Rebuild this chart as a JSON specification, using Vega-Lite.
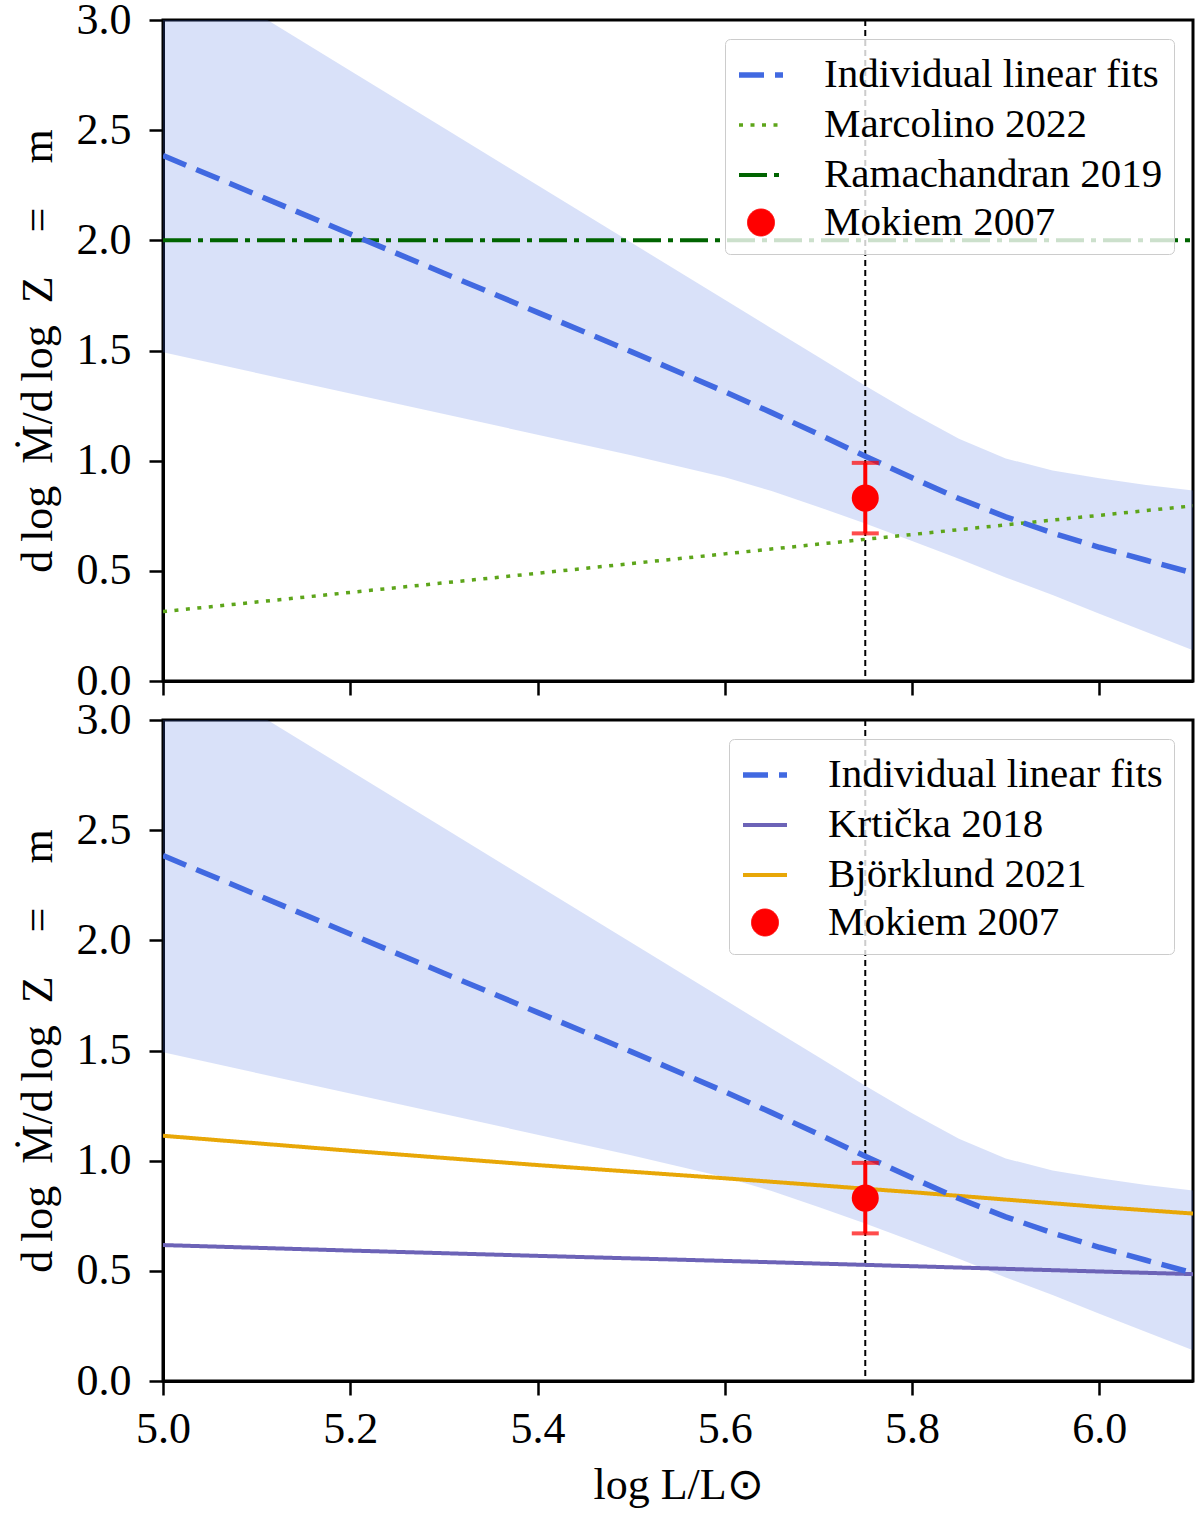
{
  "$schema": "https://vega.github.io/schema/vega-lite/v6.json",
  "background": "white",
  "padding": {"left": 14, "top": -4, "right": 5, "bottom": 5},
  "config": {
    "font": "Liberation Serif",
    "view": {"stroke": "black", "strokeWidth": 3},
    "axis": {
      "grid": false,
      "domainColor": "black",
      "domainWidth": 3,
      "tickColor": "black",
      "tickWidth": 2.5,
      "tickSize": 14,
      "labelFont": "Liberation Serif",
      "labelFontSize": 44,
      "labelColor": "black",
      "titleFont": "Liberation Serif",
      "titleFontSize": 44,
      "titleFontWeight": "normal",
      "titleColor": "black"
    },
    "axisX": {"labelPadding": 12, "titlePadding": 12, "labelFlush": false, "labelOverlap": false},
    "axisY": {"labelPadding": 18, "titlePadding": 16},
    "legend": {
      "orient": "top-right",
      "offset": 19,
      "padding": 11,
      "labelFont": "Liberation Serif",
      "labelFontSize": 41,
      "labelColor": "black",
      "labelOffset": 38,
      "labelLimit": 0,
      "rowPadding": 6,
      "strokeColor": "#cccccc",
      "fillColor": "rgba(255,255,255,0.8)",
      "cornerRadius": 5,
      "symbolOpacity": 1
    }
  },
  "datasets": {
    "band": [
      {"x": 5.0, "lo": 1.492, "hi": 3.29},
      {"x": 5.1, "lo": 1.398, "hi": 3.03},
      {"x": 5.2, "lo": 1.305, "hi": 2.77},
      {"x": 5.3, "lo": 1.212, "hi": 2.51},
      {"x": 5.4, "lo": 1.118, "hi": 2.25},
      {"x": 5.5, "lo": 1.025, "hi": 1.99},
      {"x": 5.6, "lo": 0.925, "hi": 1.73},
      {"x": 5.65, "lo": 0.862, "hi": 1.6},
      {"x": 5.7, "lo": 0.79, "hi": 1.47},
      {"x": 5.75, "lo": 0.715, "hi": 1.34},
      {"x": 5.8, "lo": 0.635, "hi": 1.215},
      {"x": 5.85, "lo": 0.555, "hi": 1.1},
      {"x": 5.9, "lo": 0.47, "hi": 1.01},
      {"x": 5.95, "lo": 0.39, "hi": 0.955},
      {"x": 6.0, "lo": 0.305, "hi": 0.92},
      {"x": 6.05, "lo": 0.222, "hi": 0.89},
      {"x": 6.1, "lo": 0.14, "hi": 0.865}
    ],
    "fits": [
      {"series": "Individual linear fits", "x": 5.0, "y": 2.385},
      {"series": "Individual linear fits", "x": 5.1, "y": 2.207},
      {"series": "Individual linear fits", "x": 5.2, "y": 2.029},
      {"series": "Individual linear fits", "x": 5.3, "y": 1.851},
      {"series": "Individual linear fits", "x": 5.4, "y": 1.673},
      {"series": "Individual linear fits", "x": 5.5, "y": 1.495},
      {"series": "Individual linear fits", "x": 5.6, "y": 1.313},
      {"series": "Individual linear fits", "x": 5.65, "y": 1.218},
      {"series": "Individual linear fits", "x": 5.7, "y": 1.12},
      {"series": "Individual linear fits", "x": 5.75, "y": 1.02},
      {"series": "Individual linear fits", "x": 5.8, "y": 0.922},
      {"series": "Individual linear fits", "x": 5.85, "y": 0.828},
      {"series": "Individual linear fits", "x": 5.9, "y": 0.745},
      {"series": "Individual linear fits", "x": 5.95, "y": 0.672},
      {"series": "Individual linear fits", "x": 6.0, "y": 0.607},
      {"series": "Individual linear fits", "x": 6.05, "y": 0.548},
      {"series": "Individual linear fits", "x": 6.1, "y": 0.49}
    ],
    "upper": [
      {"series": "Marcolino 2022", "x": 5.0, "y": 0.315},
      {"series": "Marcolino 2022", "x": 5.2, "y": 0.402},
      {"series": "Marcolino 2022", "x": 5.4, "y": 0.489},
      {"series": "Marcolino 2022", "x": 5.6, "y": 0.577},
      {"series": "Marcolino 2022", "x": 5.8, "y": 0.665},
      {"series": "Marcolino 2022", "x": 6.0, "y": 0.752},
      {"series": "Marcolino 2022", "x": 6.1, "y": 0.795},
      {"series": "Ramachandran 2019", "x": 5.0, "y": 2.0},
      {"series": "Ramachandran 2019", "x": 6.1, "y": 2.0}
    ],
    "lower": [
      {"series": "Krtička 2018", "x": 5.0, "y": 0.617},
      {"series": "Krtička 2018", "x": 5.2, "y": 0.592},
      {"series": "Krtička 2018", "x": 5.4, "y": 0.568},
      {"series": "Krtička 2018", "x": 5.6, "y": 0.545},
      {"series": "Krtička 2018", "x": 5.8, "y": 0.521},
      {"series": "Krtička 2018", "x": 6.0, "y": 0.497},
      {"series": "Krtička 2018", "x": 6.1, "y": 0.485},
      {"series": "Björklund 2021", "x": 5.0, "y": 1.113},
      {"series": "Björklund 2021", "x": 5.2, "y": 1.045},
      {"series": "Björklund 2021", "x": 5.4, "y": 0.98},
      {"series": "Björklund 2021", "x": 5.6, "y": 0.92},
      {"series": "Björklund 2021", "x": 5.8, "y": 0.857},
      {"series": "Björklund 2021", "x": 6.0, "y": 0.79},
      {"series": "Björklund 2021", "x": 6.1, "y": 0.76}
    ],
    "mokiem": [
      {"series": "Mokiem 2007", "x": 5.75, "y": 0.83, "lo": 0.67, "hi": 0.99}
    ]
  },
  "bounds": "flush",
  "spacing": 39,
  "resolve": {
    "scale": {
      "color": "independent",
      "strokeDash": "independent",
      "strokeWidth": "independent",
      "shape": "independent",
      "size": "independent"
    }
  },
  "vconcat": [
    {
      "width": 1030,
      "height": 661,
      "layer": [
        {
          "data": {"name": "band"},
          "mark": {"type": "area", "color": "#4169E1", "opacity": 0.2, "clip": true},
          "encoding": {
            "x": {
              "field": "x",
              "type": "quantitative",
              "title": null,
              "scale": {"domain": [5.0, 6.1], "nice": false, "zero": false},
              "axis": {"values": [5.0, 5.2, 5.4, 5.6, 5.8, 6.0], "labels": false}
            },
            "y": {
              "field": "lo",
              "type": "quantitative",
              "title": "d\u2009log\u2002\u1e40/d\u2009log\u2002Z\u2003=\u2003m",
              "scale": {"domain": [0, 3], "nice": false},
              "axis": {"values": [0, 0.5, 1, 1.5, 2, 2.5, 3], "format": ".1f"}
            },
            "y2": {"field": "hi"}
          }
        },
        {
          "data": {"name": "mokiem"},
          "mark": {"type": "rule", "color": "black", "strokeWidth": 2, "strokeDash": [6, 4]},
          "encoding": {"x": {"field": "x", "type": "quantitative", "title": null}}
        },
        {
          "data": {"name": "upper"},
          "mark": {"type": "line", "clip": true, "strokeCap": "butt"},
          "encoding": {
            "x": {"field": "x", "type": "quantitative", "title": null},
            "y": {"field": "y", "type": "quantitative", "title": "d\u2009log\u2002\u1e40/d\u2009log\u2002Z\u2003=\u2003m"},
            "color": {"field": "series", "type": "nominal", "title": null,
              "scale": {"domain": ["Individual linear fits", "Marcolino 2022", "Ramachandran 2019", "Mokiem 2007"], "range": ["#4169E1", "#5DA51A", "#006400", "#FF0000"]}},
            "strokeDash": {"field": "series", "type": "nominal", "title": null,
              "scale": {"domain": ["Individual linear fits", "Marcolino 2022", "Ramachandran 2019", "Mokiem 2007"], "range": [[25, 11], [4, 7.5], [28, 7, 5, 7], [1, 0]]}},
            "strokeWidth": {"field": "series", "type": "nominal", "title": null,
              "scale": {"type": "ordinal", "domain": ["Individual linear fits", "Marcolino 2022", "Ramachandran 2019", "Mokiem 2007"], "range": [5.5, 3.5, 4, 1]}}
          }
        },
        {
          "data": {"name": "fits"},
          "mark": {"type": "line", "clip": true, "strokeCap": "butt"},
          "encoding": {
            "x": {"field": "x", "type": "quantitative", "title": null},
            "y": {"field": "y", "type": "quantitative", "title": "d\u2009log\u2002\u1e40/d\u2009log\u2002Z\u2003=\u2003m"},
            "color": {"field": "series", "type": "nominal", "title": null,
              "scale": {"domain": ["Individual linear fits", "Marcolino 2022", "Ramachandran 2019", "Mokiem 2007"], "range": ["#4169E1", "#5DA51A", "#006400", "#FF0000"]}},
            "strokeDash": {"field": "series", "type": "nominal", "title": null,
              "scale": {"domain": ["Individual linear fits", "Marcolino 2022", "Ramachandran 2019", "Mokiem 2007"], "range": [[25, 11], [4, 7.5], [28, 7, 5, 7], [1, 0]]}},
            "strokeWidth": {"field": "series", "type": "nominal", "title": null,
              "scale": {"type": "ordinal", "domain": ["Individual linear fits", "Marcolino 2022", "Ramachandran 2019", "Mokiem 2007"], "range": [5.5, 3.5, 4, 1]}}
          }
        },
        {
          "data": {"name": "mokiem"},
          "mark": {"type": "errorbar", "color": "#FF0000", "thickness": 4, "ticks": {"color": "#FF0000", "size": 27, "thickness": 4}},
          "encoding": {
            "x": {"field": "x", "type": "quantitative", "title": null},
            "y": {"field": "lo", "type": "quantitative", "title": "d\u2009log\u2002\u1e40/d\u2009log\u2002Z\u2003=\u2003m"},
            "y2": {"field": "hi"}
          }
        },
        {
          "data": {"name": "mokiem"},
          "mark": {"type": "point", "filled": true, "opacity": 1},
          "encoding": {
            "x": {"field": "x", "type": "quantitative", "title": null},
            "y": {"field": "y", "type": "quantitative", "title": "d\u2009log\u2002\u1e40/d\u2009log\u2002Z\u2003=\u2003m"},
            "color": {"field": "series", "type": "nominal", "title": null,
              "scale": {"domain": ["Individual linear fits", "Marcolino 2022", "Ramachandran 2019", "Mokiem 2007"], "range": ["#4169E1", "#5DA51A", "#006400", "#FF0000"]}},
            "shape": {"field": "series", "type": "nominal", "title": null,
              "scale": {"domain": ["Individual linear fits", "Marcolino 2022", "Ramachandran 2019", "Mokiem 2007"], "range": ["stroke", "stroke", "stroke", "circle"]}},
            "size": {"field": "series", "type": "nominal", "title": null,
              "scale": {"type": "ordinal", "domain": ["Individual linear fits", "Marcolino 2022", "Ramachandran 2019", "Mokiem 2007"], "range": [1936, 1936, 1936, 729]}}
          }
        }
      ]
    },
    {
      "width": 1030,
      "height": 661,
      "layer": [
        {
          "data": {"name": "band"},
          "mark": {"type": "area", "color": "#4169E1", "opacity": 0.2, "clip": true},
          "encoding": {
            "x": {
              "field": "x",
              "type": "quantitative",
              "title": "log L/L\u2299",
              "scale": {"domain": [5.0, 6.1], "nice": false, "zero": false},
              "axis": {"values": [5.0, 5.2, 5.4, 5.6, 5.8, 6.0], "format": ".1f"}
            },
            "y": {
              "field": "lo",
              "type": "quantitative",
              "title": "d\u2009log\u2002\u1e40/d\u2009log\u2002Z\u2003=\u2003m",
              "scale": {"domain": [0, 3], "nice": false},
              "axis": {"values": [0, 0.5, 1, 1.5, 2, 2.5, 3], "format": ".1f"}
            },
            "y2": {"field": "hi"}
          }
        },
        {
          "data": {"name": "mokiem"},
          "mark": {"type": "rule", "color": "black", "strokeWidth": 2, "strokeDash": [6, 4]},
          "encoding": {"x": {"field": "x", "type": "quantitative", "title": "log L/L\u2299"}}
        },
        {
          "data": {"name": "lower"},
          "mark": {"type": "line", "clip": true, "strokeCap": "butt"},
          "encoding": {
            "x": {"field": "x", "type": "quantitative", "title": "log L/L\u2299"},
            "y": {"field": "y", "type": "quantitative", "title": "d\u2009log\u2002\u1e40/d\u2009log\u2002Z\u2003=\u2003m"},
            "color": {"field": "series", "type": "nominal", "title": null,
              "scale": {"domain": ["Individual linear fits", "Krtička 2018", "Björklund 2021", "Mokiem 2007"], "range": ["#4169E1", "#6C63B7", "#E8A707", "#FF0000"]}},
            "strokeDash": {"field": "series", "type": "nominal", "title": null,
              "scale": {"domain": ["Individual linear fits", "Krtička 2018", "Björklund 2021", "Mokiem 2007"], "range": [[25, 11], [1, 0], [1, 0], [1, 0]]}},
            "strokeWidth": {"field": "series", "type": "nominal", "title": null,
              "scale": {"type": "ordinal", "domain": ["Individual linear fits", "Krtička 2018", "Björklund 2021", "Mokiem 2007"], "range": [5.5, 4, 4, 1]}}
          }
        },
        {
          "data": {"name": "fits"},
          "mark": {"type": "line", "clip": true, "strokeCap": "butt"},
          "encoding": {
            "x": {"field": "x", "type": "quantitative", "title": "log L/L\u2299"},
            "y": {"field": "y", "type": "quantitative", "title": "d\u2009log\u2002\u1e40/d\u2009log\u2002Z\u2003=\u2003m"},
            "color": {"field": "series", "type": "nominal", "title": null,
              "scale": {"domain": ["Individual linear fits", "Krtička 2018", "Björklund 2021", "Mokiem 2007"], "range": ["#4169E1", "#6C63B7", "#E8A707", "#FF0000"]}},
            "strokeDash": {"field": "series", "type": "nominal", "title": null,
              "scale": {"domain": ["Individual linear fits", "Krtička 2018", "Björklund 2021", "Mokiem 2007"], "range": [[25, 11], [1, 0], [1, 0], [1, 0]]}},
            "strokeWidth": {"field": "series", "type": "nominal", "title": null,
              "scale": {"type": "ordinal", "domain": ["Individual linear fits", "Krtička 2018", "Björklund 2021", "Mokiem 2007"], "range": [5.5, 4, 4, 1]}}
          }
        },
        {
          "data": {"name": "mokiem"},
          "mark": {"type": "errorbar", "color": "#FF0000", "thickness": 4, "ticks": {"color": "#FF0000", "size": 27, "thickness": 4}},
          "encoding": {
            "x": {"field": "x", "type": "quantitative", "title": "log L/L\u2299"},
            "y": {"field": "lo", "type": "quantitative", "title": "d\u2009log\u2002\u1e40/d\u2009log\u2002Z\u2003=\u2003m"},
            "y2": {"field": "hi"}
          }
        },
        {
          "data": {"name": "mokiem"},
          "mark": {"type": "point", "filled": true, "opacity": 1},
          "encoding": {
            "x": {"field": "x", "type": "quantitative", "title": "log L/L\u2299"},
            "y": {"field": "y", "type": "quantitative", "title": "d\u2009log\u2002\u1e40/d\u2009log\u2002Z\u2003=\u2003m"},
            "color": {"field": "series", "type": "nominal", "title": null,
              "scale": {"domain": ["Individual linear fits", "Krtička 2018", "Björklund 2021", "Mokiem 2007"], "range": ["#4169E1", "#6C63B7", "#E8A707", "#FF0000"]}},
            "shape": {"field": "series", "type": "nominal", "title": null,
              "scale": {"domain": ["Individual linear fits", "Krtička 2018", "Björklund 2021", "Mokiem 2007"], "range": ["stroke", "stroke", "stroke", "circle"]}},
            "size": {"field": "series", "type": "nominal", "title": null,
              "scale": {"type": "ordinal", "domain": ["Individual linear fits", "Krtička 2018", "Björklund 2021", "Mokiem 2007"], "range": [1936, 1936, 1936, 729]}}
          }
        }
      ]
    }
  ]
}
